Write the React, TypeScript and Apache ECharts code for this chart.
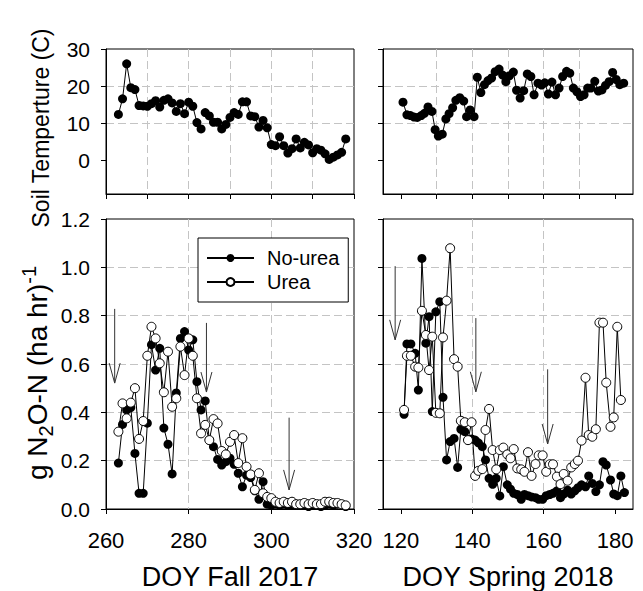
import React, { useEffect, useRef } from 'react';
import * as echarts from 'echarts';

const FONT = '"Liberation Sans", Arial, Helvetica, sans-serif';

// ---------- Soil temperature, Fall 2017 (DOY 263-318, logger gap after DOY 283) ----------
const fallTempDoy = [263, 264, 265, 266, 267, 268, 269, 270, 271, 272, 273, 274, 275, 276, 277, 278, 279, 280, 281, 282, 283, 283.5,
  284, 285, 286, 287, 288, 289, 290, 291, 292, 293, 294, 295, 296, 297, 298, 299, 300, 301, 302, 303, 304, 305, 306, 307, 308, 309,
  310, 311, 312, 313, 314, 315, 316, 317, 318];
const fallTemp = [12.4, 16.6, 26, 19.6, 19.1, 14.8, 14.7, 14.6, 15.3, 16.1, 14.4, 16.2, 16.6, 15.5, 13.2, 15.3, 12.6, 15.7, 14.6, 10.2, 8.5, null,
  12.9, 12.0, 10.3, 10.3, 8.5, 9.7, 11.6, 12.9, 12.4, 15.8, 15.8, 12.0, 11.8, 9.0, 10.8, 8.8, 4.3, 4.0, 6.4, 4.0, 2.0, 3.2, 5.8, 3.4, 4.9, 4.2,
  2.1, 3.2, 2.8, 1.8, 0.3, 0.9, 1.5, 2.2, 5.8];

// ---------- Soil temperature, Spring 2018 ----------
const springTempDoy = [120.6, 121.7, 122.7, 123.7, 124.6, 125.7, 126.6, 127.6, 128.7, 129.6, 130.5, 131.6, 132.6, 133.5, 134.5, 135.4,
  136.5, 137.6, 138.4, 139.4, 140.5, 141.4, 142.4, 143.4, 144.4, 145.4, 146.4, 147.5, 148.5, 149.4, 150.4, 151.5, 152.4, 153.4, 154.4,
  155.4, 156.4, 157.3, 158.4, 159.4, 160.3, 161.3, 162.3, 163.3, 164.3, 165.3, 166.4, 167.3, 168.3, 169.3, 170.3, 171.3, 172.3, 173.2,
  174.3, 175.3, 176.3, 177.3, 178.3, 179.3, 180.3, 181.3, 182.4];
const springTemp = [15.7, 12.3, 12.1, 11.7, 11.6, 12.1, 12.7, 14.4, 13.2, 8.3, 6.6, 7.1, 11.2, 12.6, 14.2, 16.2, 16.9, 16.0, 11.8, 13.6,
  11.8, 22.4, 18.3, 20.4, 21.5, 22.2, 23.9, 24.6, 23.0, 21.2, 22.8, 23.8, 18.9, 16.8, 18.8, 23.3, 22.6, 17.7, 20.8, 20.3,
  20.9, 17.9, 21.1, 17.7, 19.5, 22.6, 24.0, 23.5, 19.5, 18.5, 17.2, 17.7, 19.5, 19.5, 21.3, 18.7, 19.0, 20.2, 21.2, 23.7,
  21.8, 20.4, 20.8];

// ---------- N2O flux, Fall 2017 ----------
const fallN2oDoy = [263, 264, 265, 266, 267, 268, 269, 270, 271, 272, 273, 274, 275, 276, 277, 278, 279, 280, 281, 282, 283, 284, 285,
  286, 287, 288, 289, 290, 291, 292, 293, 294, 295, 296, 297, 298, 299, 300, 301, 302, 303, 304, 305, 306, 307, 308, 309, 310, 311,
  312, 313, 314, 315, 316, 317, 318];
const fallNoUrea = [0.19, 0.35, 0.41, 0.42, 0.23, 0.065, 0.065, 0.355, 0.68, 0.575, 0.665, 0.335, 0.268, 0.145, 0.48, 0.706, 0.734,
  0.658, 0.70, 0.527, 0.41, 0.447, 0.285, 0.258, 0.205, 0.182, 0.196, 0.21, 0.185, 0.148, 0.092, 0.14, 0.13, 0.075, 0.04, 0.113,
  0.02, 0.015, 0.02, 0.015, 0.02, 0.015, 0.015, 0.02, 0.015, 0.015, 0.01, 0.015, 0.015, 0.01, 0.015, 0.02, 0.015, 0.02, 0.02, 0.01];
const fallUrea = [0.32, 0.437, 0.375, 0.44, 0.50, 0.29, 0.364, 0.634, 0.754, 0.706, 0.603, 0.483, 0.651, 0.423, 0.458, 0.672, 0.554,
  0.706, 0.634, 0.458, 0.313, 0.348, 0.285, 0.372, 0.354, 0.24, 0.226, 0.278, 0.306, 0.19, 0.293, 0.175, 0.143, 0.079, 0.148, 0.065,
  0.05, 0.045, 0.03, 0.025, 0.03, 0.025, 0.03, 0.02, 0.02, 0.025, 0.02, 0.025, 0.02, 0.02, 0.03, 0.03, 0.025, 0.025, 0.02, 0.015];

// ---------- N2O flux, Spring 2018 ----------
const springN2oDoy = [120.9, 121.7, 122.8, 124.0, 124.9, 125.9, 127.0, 127.9, 128.8, 129.8, 130.9, 131.8, 132.8, 133.8, 134.9, 135.9,
  136.8, 137.9, 138.8, 139.8, 140.8, 141.7, 142.8, 143.7, 144.7, 145.7, 146.7, 147.7, 148.7, 149.8, 150.7, 151.6, 152.6, 153.7, 154.6,
  155.6, 156.6, 157.7, 158.6, 159.7, 160.7, 161.7, 162.6, 163.7, 164.7, 165.6, 166.7, 167.7, 168.7, 169.6, 170.6, 171.7, 172.6, 173.6,
  174.6, 175.6, 176.6, 177.5, 178.7, 179.6, 180.6, 181.6, 182.6];
const springNoUrea = [0.392, 0.683, 0.683, 0.644, 0.492, 1.037, 0.686, 0.796, 0.403, 0.816, 0.858, 0.462, 0.203, 0.279, 0.292, 0.172,
  0.33, 0.32, 0.285, 0.29, 0.285, 0.274, 0.258, 0.203, 0.127, 0.102, 0.127, 0.054, 0.175, 0.1, 0.082, 0.065, 0.06, 0.04, 0.06, 0.055,
  0.05, 0.047, 0.04, 0.04, 0.055, 0.06, 0.065, 0.075, 0.047, 0.062, 0.078, 0.062, 0.075, 0.088, 0.1, 0.092, 0.137, 0.106, 0.072, 0.1,
  0.196, 0.182, 0.12, 0.062, 0.055, 0.137, 0.068];
const springUrea = [0.41, 0.634, 0.634, 0.589, 0.585, 0.82, 0.72, 0.575, 0.713, 0.398, 0.396, 0.71, 0.862, 1.079, 0.62, 0.589, 0.365,
  0.359, 0.285, 0.359, 0.137, 0.158, 0.165, 0.327, 0.414, 0.244, 0.164, 0.244, 0.254, 0.226, 0.21, 0.248, 0.168, 0.164, 0.154, 0.235,
  0.137, 0.186, 0.222, 0.222, 0.154, 0.185, 0.185, 0.134, 0.103, 0.145, 0.117, 0.172, 0.186, 0.2, 0.283, 0.543, 0.306, 0.299, 0.33,
  0.771, 0.771, 0.523, 0.34, 0.379, 0.754, 0.451, null];

// ---------- Urea application arrows: [DOY, top value, tip value] ----------
const fallArrows = [[262.1, 0.828, 0.521], [284.3, 0.77, 0.484], [304.3, 0.378, 0.079]];
const springArrows = [[118.4, 1.005, 0.70], [141.0, 0.79, 0.485], [161.1, 0.578, 0.269]];

// ---------- Axis ticks ----------
const tempTicks = [0, 10, 20, 30];
const springTopTicks = [120, 130, 140, 150, 160, 170, 180];
const springBottomTicks = [120, 140, 160, 180];

const pairs = (xs: number[], ys: (number | null)[]) => xs.map((x, i) => [x, ys[i]]);

const gridLine = { show: true, showMinLine: false, showMaxLine: false, lineStyle: { color: '#c4c4c4', type: [8, 4], width: 1 } };
const axLine = { show: true, onZero: false, lineStyle: { color: '#000', width: 1 } };
const axTick = { show: true, inside: false, length: 5, lineStyle: { color: '#000', width: 1 } };

const filledSeries = { type: 'line', symbol: 'circle', symbolSize: 9, itemStyle: { color: '#000' }, lineStyle: { color: '#000', width: 1 }, connectNulls: false };
const openSeries = { type: 'line', symbol: 'circle', symbolSize: 9, itemStyle: { color: '#fff', borderColor: '#000', borderWidth: 1 }, lineStyle: { color: '#000', width: 1 }, connectNulls: false };

const arrowRender = (params: any, api: any) => {
  const top = api.coord([api.value(0), api.value(1)]);
  const tip = api.coord([api.value(0), api.value(2)]);
  const hw = 5.5, hl = 20;
  return {
    type: 'group',
    children: [
      { type: 'line', shape: { x1: top[0], y1: top[1], x2: tip[0], y2: tip[1] }, style: { stroke: '#333', lineWidth: 1 } },
      { type: 'polyline', shape: { points: [[tip[0] - hw, tip[1] - hl], [tip[0], tip[1]], [tip[0] + hw, tip[1] - hl]] }, style: { stroke: '#333', fill: 'none', lineWidth: 1 } },
    ],
  };
};

const gridBase = { show: true, borderColor: '#000', borderWidth: 1, backgroundColor: 'transparent', containLabel: false, outerBoundsMode: 'none' };

const option: any = {
  animation: false,
  textStyle: { fontFamily: FONT, color: '#000' },
  grid: [
    { ...gridBase, left: 106, top: 49, width: 248, height: 145 },
    { ...gridBase, left: 383, top: 49, width: 250, height: 145 },
    { ...gridBase, left: 106, top: 219, width: 248, height: 290 },
    { ...gridBase, left: 383, top: 219, width: 250, height: 290 },
  ],
  xAxis: [
    { gridIndex: 0, type: 'value', min: 260, max: 320, interval: 10, axisLabel: { show: false }, axisLine: axLine, axisTick: axTick, splitLine: gridLine },
    { gridIndex: 1, type: 'value', min: 115, max: 185, splitNumber: 7, axisLabel: { show: false, customValues: springTopTicks }, axisLine: axLine, axisTick: { ...axTick, customValues: springTopTicks }, splitLine: gridLine },
    { gridIndex: 2, type: 'value', min: 260, max: 320, interval: 20, axisLabel: { fontSize: 22, color: '#000', fontFamily: FONT, margin: 20 }, axisLine: axLine, axisTick: axTick, splitLine: gridLine },
    { gridIndex: 3, type: 'value', min: 115, max: 185, splitNumber: 4, axisLabel: { fontSize: 22, color: '#000', fontFamily: FONT, margin: 20, customValues: springBottomTicks }, axisLine: axLine, axisTick: { ...axTick, customValues: springBottomTicks }, splitLine: gridLine },
  ],
  yAxis: [
    { gridIndex: 0, type: 'value', min: -9, max: 30, splitNumber: 4, axisLabel: { fontSize: 21, color: '#000', fontFamily: FONT, margin: 16, customValues: tempTicks }, axisLine: axLine, axisTick: { ...axTick, customValues: tempTicks }, splitLine: gridLine },
    { gridIndex: 1, type: 'value', min: -9, max: 30, splitNumber: 4, axisLabel: { show: false, customValues: tempTicks }, axisLine: axLine, axisTick: { ...axTick, customValues: tempTicks }, splitLine: gridLine },
    { gridIndex: 2, type: 'value', min: 0, max: 1.2, interval: 0.2, axisLabel: { fontSize: 21, color: '#000', fontFamily: FONT, margin: 16, formatter: (v: number) => v.toFixed(1) }, axisLine: axLine, axisTick: axTick, splitLine: gridLine },
    { gridIndex: 3, type: 'value', min: 0, max: 1.2, interval: 0.2, axisLabel: { show: false }, axisLine: axLine, axisTick: axTick, splitLine: gridLine },
  ],
  legend: {
    data: ['No-urea', 'Urea'],
    left: 198, top: 238, orient: 'vertical',
    padding: [10, 9, 10, 8], itemGap: 4, itemWidth: 47, itemHeight: 10,
    borderColor: '#000', borderWidth: 1, backgroundColor: '#fff', borderRadius: 0,
    selectedMode: false,
    textStyle: { fontSize: 20, color: '#000', fontFamily: FONT, padding: [0, 0, 0, 8] },
  },
  series: [
    { ...filledSeries, name: 'Soil temperature fall', xAxisIndex: 0, yAxisIndex: 0, data: pairs(fallTempDoy, fallTemp) },
    { ...filledSeries, name: 'Soil temperature spring', xAxisIndex: 1, yAxisIndex: 1, data: pairs(springTempDoy, springTemp) },
    { type: 'custom', name: 'arrows fall', xAxisIndex: 2, yAxisIndex: 2, renderItem: arrowRender, data: fallArrows, encode: { x: 0, y: [1, 2] }, z: 1, silent: true },
    { type: 'custom', name: 'arrows spring', xAxisIndex: 3, yAxisIndex: 3, renderItem: arrowRender, data: springArrows, encode: { x: 0, y: [1, 2] }, z: 1, silent: true },
    { ...filledSeries, name: 'No-urea', xAxisIndex: 2, yAxisIndex: 2, data: pairs(fallN2oDoy, fallNoUrea), z: 3 },
    { ...openSeries, name: 'Urea', xAxisIndex: 2, yAxisIndex: 2, data: pairs(fallN2oDoy, fallUrea), z: 4 },
    { ...filledSeries, name: 'No-urea', xAxisIndex: 3, yAxisIndex: 3, data: pairs(springN2oDoy, springNoUrea), z: 3 },
    { ...openSeries, name: 'Urea', xAxisIndex: 3, yAxisIndex: 3, data: pairs(springN2oDoy, springUrea), z: 4 },
  ],
  graphic: [
    { type: 'text', x: 230, y: 577, style: { text: 'DOY Fall 2017', fontSize: 27, fontFamily: FONT, fill: '#000', align: 'center', verticalAlign: 'middle' } },
    { type: 'text', x: 508, y: 577, style: { text: 'DOY Spring 2018', fontSize: 27, fontFamily: FONT, fill: '#000', align: 'center', verticalAlign: 'middle' } },
    { type: 'text', x: 41, y: 128, rotation: Math.PI / 2, style: { text: 'Soil Temperture (C)', fontSize: 23, fontFamily: FONT, fill: '#000', align: 'center', verticalAlign: 'middle' } },
    {
      type: 'text', x: 37, y: 373, rotation: Math.PI / 2,
      style: {
        text: '{a|g N}{s|2}{a|O-N (ha hr)}{p|-1}',
        align: 'center', verticalAlign: 'middle', fill: '#000', fontFamily: FONT,
        rich: {
          a: { fontSize: 28, lineHeight: 37, fontFamily: FONT, fill: '#000' },
          s: { fontSize: 20, lineHeight: 20, verticalAlign: 'bottom', fontFamily: FONT, fill: '#000' },
          p: { fontSize: 20, lineHeight: 20, verticalAlign: 'top', fontFamily: FONT, fill: '#000' },
        },
      },
    },
  ],
};

export default function App() {
  const ref = useRef<HTMLDivElement>(null);
  useEffect(() => {
    document.body.style.margin = '0';
    const chart = echarts.init(ref.current as HTMLDivElement, null, { renderer: 'svg' });
    chart.setOption(option);
    return () => chart.dispose();
  }, []);
  return <div ref={ref} style={{ width: 643, height: 591 }} />;
}
